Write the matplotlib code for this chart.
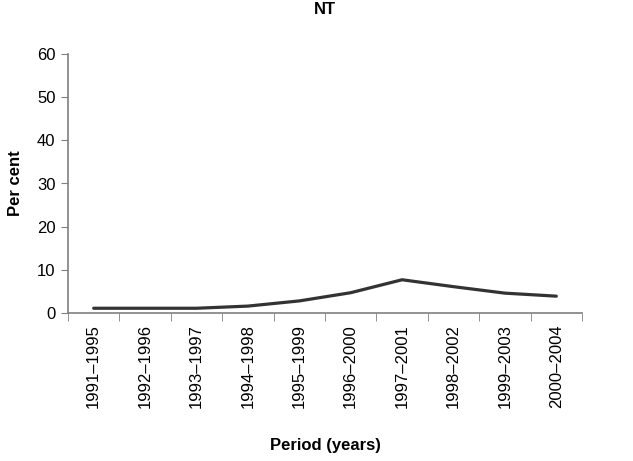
import matplotlib
matplotlib.use("Agg")
import matplotlib.pyplot as plt

periods = ["1991–1995", "1992–1996", "1993–1997", "1994–1998", "1995–1999",
           "1996–2000", "1997–2001", "1998–2002", "1999–2003", "2000–2004"]
values = [1.1, 1.1, 1.1, 1.6, 2.8, 4.7, 7.7, 6.1, 4.6, 3.9]
yticks = [0, 10, 20, 30, 40, 50, 60]

plt.rcParams['font.family'] = ['Liberation Sans', 'DejaVu Sans']

fig = plt.figure(figsize=(6.33, 4.61), dpi=100)
ax = fig.add_axes([68/633, 1-313/461, (582-68)/633, (313-54)/461])

x = list(range(len(periods)))
ax.plot(x, values, color='#333333', linewidth=2.3, solid_capstyle='round')

ax.set_xlim(-0.5, len(periods) - 0.5)
ax.set_ylim(0, 60)
ax.set_yticks(yticks)
ax.set_yticklabels([str(v) for v in yticks], fontsize=12)
ax.set_xticks(x)
ax.set_xticklabels(periods, rotation=90, fontsize=12)
ax.tick_params(axis='x', length=0, pad=8)
ax.set_xticks([i - 0.5 for i in range(len(periods) + 1)], minor=True)
ax.tick_params(axis='x', which='minor', length=6, color='#808080', direction='out')
ax.tick_params(axis='y', length=5, color='#808080', direction='out', pad=4)

for s in ['top', 'right']:
    ax.spines[s].set_visible(False)
for s in ['left', 'bottom']:
    ax.spines[s].set_color('#808080')
    ax.spines[s].set_linewidth(1.2)

ax.set_title("NT", fontsize=12, fontweight='bold', pad=0, y=1.0)
ax.title.set_position((0.5, 1 + (54 - 14) / 259))
ax.set_ylabel("Per cent", fontsize=12, fontweight='bold', labelpad=10)
fig.text((68 + 582) / 2 / 633, 1 - 445 / 461, "Period (years)", fontsize=12,
         fontweight='bold', ha='center', va='center')

fig.savefig("out.png", dpi=100)
